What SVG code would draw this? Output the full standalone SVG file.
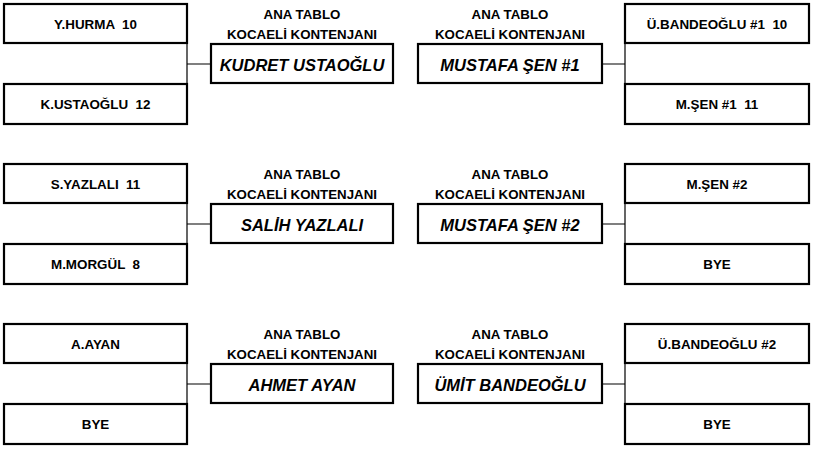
<svg xmlns="http://www.w3.org/2000/svg" width="814" height="449" viewBox="0 0 814 449">
<style>
.box{fill:#fff;stroke:#000;stroke-width:2.2}
.win{fill:#fff;stroke:#000;stroke-width:2.2}
.t{font-family:"Liberation Sans",Arial,sans-serif;font-weight:bold;font-size:13.4px;text-anchor:middle;fill:#000;white-space:pre}
.w{font-family:"Liberation Sans",Arial,sans-serif;font-weight:bold;font-style:italic;font-size:16.5px;text-anchor:middle;fill:#000}
.h{font-family:"Liberation Sans",Arial,sans-serif;font-weight:bold;font-size:13.3px;text-anchor:middle;fill:#000}
.c{stroke:#000;stroke-width:1.2;fill:none}
</style>
<rect width="814" height="449" fill="#fff"/>
<g id="connectors">
<path class="c" d="M187 43V84M187 64H211M187 203V244M187 224H211M187 363V404M187 384H211"/>
<path class="c" d="M625 43V84M602 64H625M625 203V244M602 224H625M625 363V404M602 384H625"/>
</g>
<!-- Row 1 -->
<g id="n-yhurma"><rect class="box" x="4" y="4" width="183" height="39"/><text class="t" x="95.5" y="29.3" xml:space="preserve">Y.HURMA  10</text></g>
<g id="n-kustaoglu"><rect class="box" x="4" y="84" width="183" height="40"/><text class="t" x="95.5" y="109" xml:space="preserve">K.USTAOĞLU  12</text></g>
<g id="w-kudret"><text class="h" x="302" y="19">ANA TABLO</text><text class="h" x="302" y="39">KOCAELİ KONTENJANI</text><rect class="win" x="211" y="44" width="182" height="39"/><text class="w" x="302" y="70.5">KUDRET USTAOĞLU</text></g>
<g id="w-mustafa1"><text class="h" x="510" y="19">ANA TABLO</text><text class="h" x="510" y="39">KOCAELİ KONTENJANI</text><rect class="win" x="418" y="44" width="184" height="39"/><text class="w" x="510" y="70.5">MUSTAFA ŞEN #1</text></g>
<g id="n-ubandeoglu1"><rect class="box" x="625" y="4" width="184" height="39"/><text class="t" x="717" y="29.3" xml:space="preserve">Ü.BANDEOĞLU #1  10</text></g>
<g id="n-msen1"><rect class="box" x="625" y="84" width="184" height="40"/><text class="t" x="717" y="109" xml:space="preserve">M.ŞEN #1  11</text></g>
<!-- Row 2 -->
<g id="n-syazlali"><rect class="box" x="4" y="164" width="183" height="39"/><text class="t" x="95.5" y="189.3" xml:space="preserve">S.YAZLALI  11</text></g>
<g id="n-mmorgul"><rect class="box" x="4" y="244" width="183" height="40"/><text class="t" x="95.5" y="269" xml:space="preserve">M.MORGÜL  8</text></g>
<g id="w-salih"><text class="h" x="302" y="179">ANA TABLO</text><text class="h" x="302" y="199">KOCAELİ KONTENJANI</text><rect class="win" x="211" y="204" width="182" height="39"/><text class="w" x="302" y="230.5">SALİH YAZLALI</text></g>
<g id="w-mustafa2"><text class="h" x="510" y="179">ANA TABLO</text><text class="h" x="510" y="199">KOCAELİ KONTENJANI</text><rect class="win" x="418" y="204" width="184" height="39"/><text class="w" x="510" y="230.5">MUSTAFA ŞEN #2</text></g>
<g id="n-msen2"><rect class="box" x="625" y="164" width="184" height="39"/><text class="t" x="717" y="189.3">M.ŞEN #2</text></g>
<g id="n-bye1"><rect class="box" x="625" y="244" width="184" height="40"/><text class="t" x="717" y="269">BYE</text></g>
<!-- Row 3 -->
<g id="n-aayan"><rect class="box" x="4" y="324" width="183" height="39"/><text class="t" x="95.5" y="349.3">A.AYAN</text></g>
<g id="n-bye2"><rect class="box" x="4" y="404" width="183" height="40"/><text class="t" x="95.5" y="429">BYE</text></g>
<g id="w-ahmet"><text class="h" x="302" y="339">ANA TABLO</text><text class="h" x="302" y="359">KOCAELİ KONTENJANI</text><rect class="win" x="211" y="364" width="182" height="39"/><text class="w" x="302" y="390.5">AHMET AYAN</text></g>
<g id="w-umit"><text class="h" x="510" y="339">ANA TABLO</text><text class="h" x="510" y="359">KOCAELİ KONTENJANI</text><rect class="win" x="418" y="364" width="184" height="39"/><text class="w" x="510" y="390.5">ÜMİT BANDEOĞLU</text></g>
<g id="n-ubandeoglu2"><rect class="box" x="625" y="324" width="184" height="39"/><text class="t" x="717" y="349.3">Ü.BANDEOĞLU #2</text></g>
<g id="n-bye3"><rect class="box" x="625" y="404" width="184" height="40"/><text class="t" x="717" y="429">BYE</text></g>
</svg>
